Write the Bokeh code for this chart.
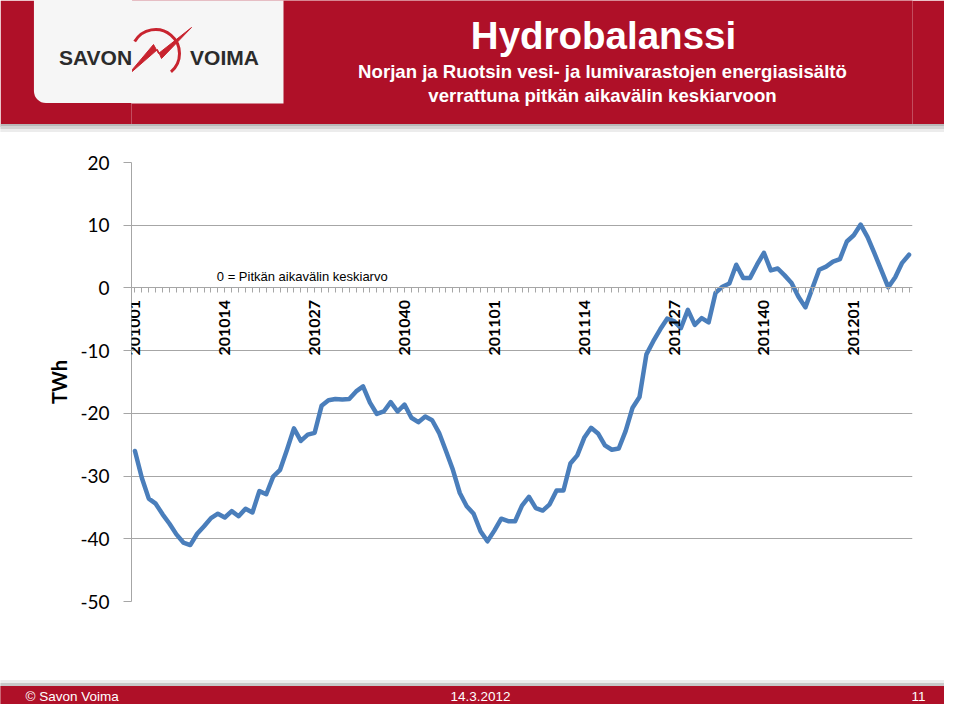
from bokeh.plotting import figure
from bokeh.layouts import column
from bokeh.models import (Range1d, FactorRange, FixedTicker, Label, LabelSet,
                          ColumnDataSource)
from bokeh.core.properties import value
from bokeh.embed import file_html
from bokeh.resources import INLINE

# ---------------- data ----------------
weeks = ([f"2010{w:02d}" for w in range(1, 53)]
         + [f"2011{w:02d}" for w in range(1, 53)]
         + [f"2012{w:02d}" for w in range(1, 10)])

hydro_balance = [
    -26.0, -30.3, -33.6, -34.4, -36.1, -37.6, -39.3, -40.6, -41.0, -39.2,
    -38.0, -36.7, -36.0, -36.6, -35.6, -36.4, -35.2, -35.8, -32.4, -32.9,
    -30.1, -29.0, -25.8, -22.4, -24.4, -23.4, -23.1, -18.8, -17.9, -17.7,
    -17.8, -17.7, -16.5, -15.7, -18.3, -20.1, -19.7, -18.2, -19.7, -18.6,
    -20.7, -21.4, -20.5, -21.1, -23.1, -26.0, -29.0, -32.7, -34.8, -36.0,
    -38.8, -40.4, -38.7, -36.8, -37.2, -37.2, -34.7, -33.3, -35.1, -35.5,
    -34.5, -32.3, -32.3, -28.0, -26.7, -23.9, -22.3, -23.2, -25.1, -25.8,
    -25.6, -22.8, -19.1, -17.4, -10.6, -8.5, -6.6, -4.9, -5.3, -6.4,
    -3.5, -5.9, -4.8, -5.5, -0.8, 0.2, 0.7, 3.7, 1.6, 1.6,
    3.7, 5.6, 2.8, 3.1, 2.0, 0.8, -1.4, -3.1, -0.1, 2.9,
    3.4, 4.2, 4.6, 7.4, 8.4, 10.1, 8.1, 5.5, 2.8, 0.1,
    1.7, 4.0, 5.3,
]

tick_labels = ["201001", "201014", "201027", "201040", "201101",
               "201114", "201127", "201140", "201201"]
y_ticks = [-50, -40, -30, -20, -10, 0, 10, 20]

title_text = "Hydrobalanssi"
subtitle_lines = ["Norjan ja Ruotsin vesi- ja lumivarastojen energiasisältö",
                  "verrattuna pitkän aikavälin keskiarvoon"]
note_text = "0 = Pitkän aikavälin keskiarvo"
footer_texts = ["© Savon Voima", "14.3.2012", "11"]

# ---------------- styling ----------------
W = 944
HDR_H = 124
MAIN_H = 580
RED = "#af1028"
LOGO_RED = "#c8242f"
LOGO_BG = "#f6f6f6"
GRID = "#a6a6a6"
LINE = "#4a7ebb"
BORDER_L, BORDER_R = 131, 32


def cbox(cx, cy, hw, hh, fill):
    """Plain box: padded background of a tiny blank label, in canvas px."""
    return Label(x=cx, y=cy, x_units="canvas", y_units="canvas", text=" ",
                 text_font_size="1px", text_align="center", text_baseline="middle",
                 padding=dict(left=hw, right=hw, top=hh, bottom=hh),
                 background_fill_color=fill, background_fill_alpha=1.0)


def clabel(x, y, text, **kw):
    return Label(x=x, y=y, x_units="canvas", y_units="canvas", text=text, **kw)


# ---------------- header figure (data units == header pixels) ----------------
hdr = figure(width=W, height=HDR_H,
             x_range=Range1d(BORDER_L, W - BORDER_R), y_range=Range1d(HDR_H, 0),
             x_axis_type=None, y_axis_type=None, toolbar_location=None,
             output_backend="svg",
             min_border_left=BORDER_L, min_border_right=BORDER_R,
             min_border_top=0, min_border_bottom=0)
hdr.outline_line_color = None
hdr.background_fill_color = RED
hdr.border_fill_color = RED

hdr.quad(left=[120], right=[283], top=[-30], bottom=[103],
         fill_color=LOGO_BG, line_color=None)
hdr.arc(x=[155], y=[53], radius=24, start_angle=-0.87, end_angle=2.62,
        direction="anticlock", line_color=LOGO_RED, line_width=3)
hdr.patch(x=[126, 153, 158, 191, 161, 157], y=[76, 44, 53, 27, 58, 49],
          fill_color=LOGO_RED, line_color=LOGO_RED, line_width=1)
hdr.text(x=[224], y=[57], text=["VOIMA"], text_align="center", text_baseline="middle",
         text_font=value("Liberation Sans"), text_font_style="bold",
         text_font_size="21px", text_color="#2b2b2b")
hdr.text(x=[603], y=[35], text=[title_text], text_align="center", text_baseline="middle",
         text_font=value("Liberation Sans"), text_font_style="bold",
         text_font_size="38.5px", text_color="white")
hdr.text(x=[602, 602], y=[71, 95], text=subtitle_lines, text_align="center",
         text_baseline="middle", text_font=value("Liberation Sans"),
         text_font_style="bold", text_font_size="18.6px", text_color="white")
# left part of the logo card (outside the frame) carrying "SAVON";
# the padded box is centred on the anchor: box x 33..132, y -20..103
hdr.add_layout(clabel(82.5, 41.5, "SAVON", text_align="center", text_baseline="middle",
                      text_font="Liberation Sans", text_font_style="bold",
                      text_font_size="21px", text_color="#2b2b2b",
                      background_fill_color=LOGO_BG, background_fill_alpha=1.0,
                      padding=dict(left=25, right=0, top=65, bottom=34),
                      border_radius=dict(top_left=0, top_right=0,
                                         bottom_right=0, bottom_left=12)), "left")

# ---------------- main chart figure ----------------
p = figure(width=W, height=MAIN_H,
           x_range=FactorRange(factors=weeks, range_padding=0),
           y_range=Range1d(-50, 20),
           toolbar_location=None, output_backend="svg",
           min_border_left=BORDER_L, min_border_right=BORDER_R,
           min_border_top=38, min_border_bottom=103)
p.outline_line_color = None
p.background_fill_color = "white"
p.border_fill_color = "white"

# header shadow (top side panel)
p.add_layout(cbox(472, 1, 472, 1, "#b8b8b8"), "above")
p.add_layout(cbox(472, 3, 472, 1, "#d4d4d4"), "above")
p.add_layout(cbox(472, 6, 472, 1, "#ececec"), "above")

# footer (bottom side panel), canvas px of this figure
p.add_layout(cbox(472, 557, 472, 1, "#ececec"), "below")
p.add_layout(cbox(472, 560, 472, 1, "#c8c8c8"), "below")
p.add_layout(cbox(472, 572, 472, 10, RED), "below")
p.add_layout(clabel(25, 572, footer_texts[0], text_align="left", text_baseline="middle",
                    text_font="Liberation Sans", text_font_size="13.5px",
                    text_color="white"), "below")
p.add_layout(clabel(480, 572, footer_texts[1], text_align="center", text_baseline="middle",
                    text_font="Liberation Sans", text_font_size="13.5px",
                    text_color="white"), "below")
p.add_layout(clabel(925, 572, footer_texts[2], text_align="right", text_baseline="middle",
                    text_font="Liberation Sans", text_font_size="13.5px",
                    text_color="white"), "below")

p.line(x=weeks, y=hydro_balance, line_color=LINE, line_width=4.5,
       line_join="round", line_cap="round")

# y axis
p.yaxis.ticker = FixedTicker(ticks=y_ticks)
p.yaxis.major_label_overrides = {t: str(t) for t in y_ticks}
p.yaxis.major_tick_out = 8
p.yaxis.major_tick_in = 0
p.yaxis.minor_tick_line_color = None
p.yaxis.major_tick_line_color = GRID
p.yaxis.axis_line_color = GRID
p.yaxis.major_label_standoff = 14
p.yaxis.major_label_text_font = "Lato"
p.yaxis.major_label_text_font_size = "19px"
p.yaxis.major_label_text_color = "black"
p.yaxis.axis_label = "TWh"
p.yaxis.axis_label_text_font = "Lato"
p.yaxis.axis_label_text_font_style = "bold"
p.yaxis.axis_label_text_font_size = "20px"
p.yaxis.axis_label_text_color = "black"
p.yaxis.axis_label_standoff = 6

p.ygrid.ticker = FixedTicker(ticks=y_ticks)
p.ygrid.grid_line_color = GRID
p.ygrid.grid_line_width = 1
p.xgrid.visible = False

# x axis crossing at zero: tick marks for every week, labels every 13 weeks
p.xaxis.fixed_location = 0
p.xaxis.major_label_text_font_size = "0px"
p.xaxis.major_label_text_color = None
p.xaxis.major_tick_out = 5
p.xaxis.major_tick_in = 0
p.xaxis.major_tick_line_color = GRID
p.xaxis.axis_line_color = GRID

tick_src = ColumnDataSource(dict(x=tick_labels, y=[0] * len(tick_labels), text=tick_labels))
p.add_layout(LabelSet(x="x", y="y", text="text", source=tick_src,
                      angle=90, angle_units="deg", text_align="right",
                      text_baseline="middle", y_offset=-12,
                      text_font=value("Lato"), text_font_style="bold",
                      text_font_size="16px", text_color="black"))

p.add_layout(Label(x=12.34, y=1.75, text=note_text, text_align="left",
                   text_baseline="middle", text_font="Liberation Sans",
                   text_font_size="13px", text_color="black"))

layout = column(hdr, p, spacing=0)
open("out.html", "w").write(file_html(layout, INLINE))
